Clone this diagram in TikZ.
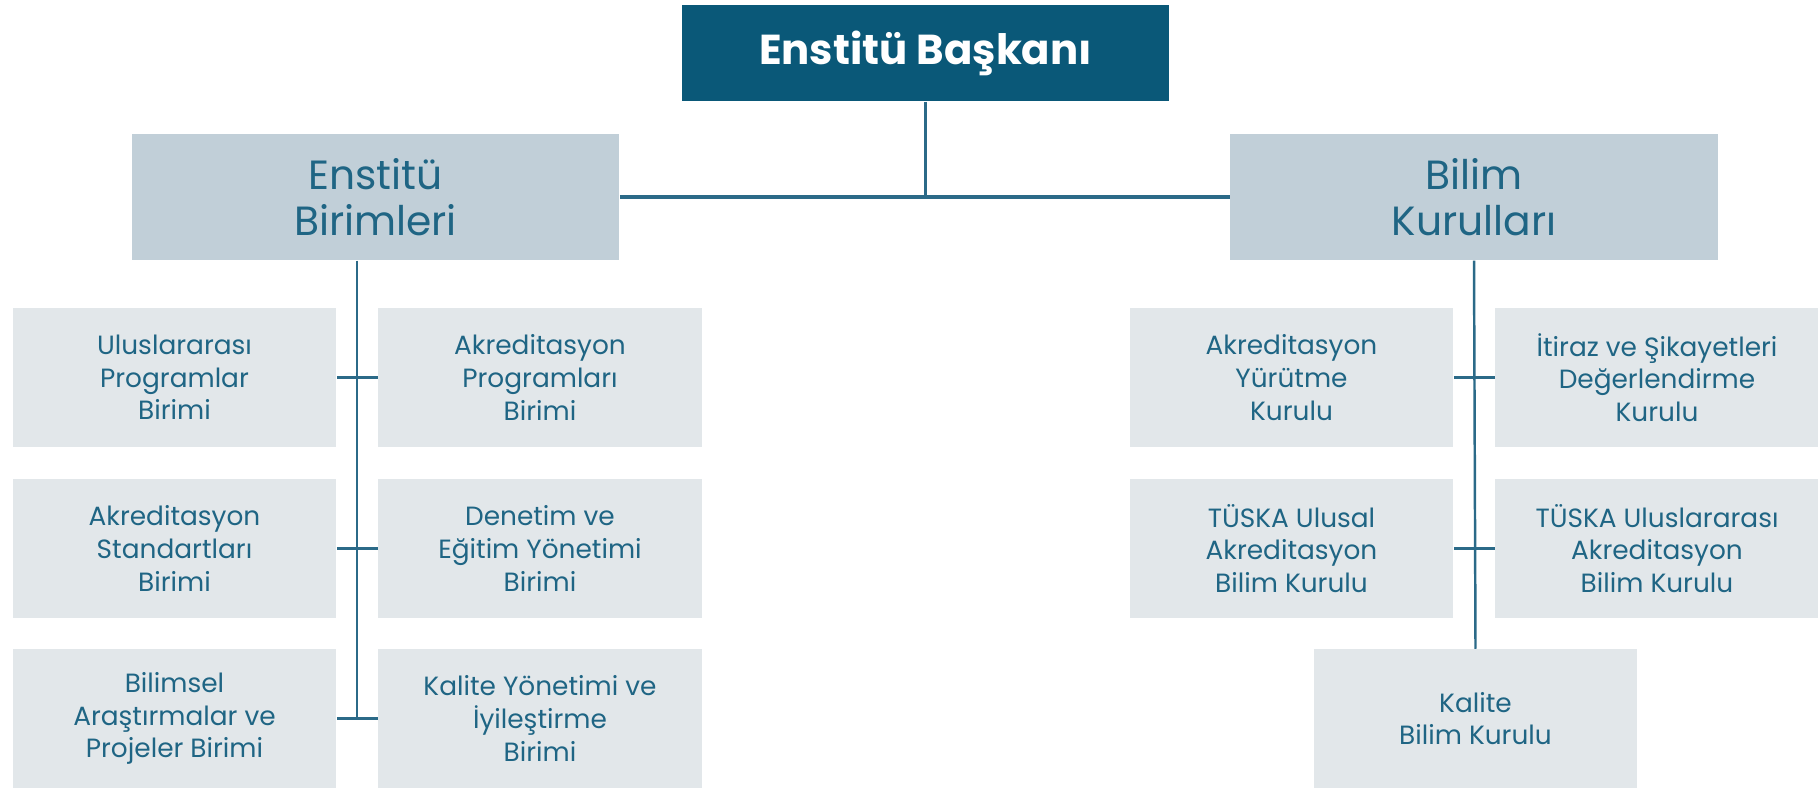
\documentclass[tikz,border=0pt]{standalone}
\usepackage{fontspec}
\setmainfont{Poppins}
\usepackage{xcolor}
\usepackage{tikz}
\usetikzlibrary{calc}

\definecolor{topblue}{HTML}{0A5878}
\definecolor{midgray}{HTML}{C1CFD8}
\definecolor{lowgray}{HTML}{E2E7EA}
\definecolor{inktext}{HTML}{1F6584}
\definecolor{linkline}{HTML}{2B6A88}

\tikzset{
  headbox/.style={fill=topblue, text=white, minimum width=4.87cm, minimum height=0.96cm,
                  font=\fontsize{11.9}{13}\selectfont\bfseries},
  groupbox/.style={fill=midgray, text=inktext, minimum width=4.87cm, minimum height=1.26cm,
                   align=center, font=\fontsize{11.6}{13}\selectfont},
  unitbox/.style={fill=lowgray, text=inktext, minimum width=3.23cm, minimum height=1.38cm,
                  align=center, font=\fontsize{7.5}{9.3}\selectfont},
  link/.style={draw=linkline, line width=0.7pt},
}

\begin{document}
\begin{tikzpicture}[x=0.01cm, y=-0.01cm]
\useasboundingbox (0,0) rectangle (1818,789);

\node[headbox] (baskan) at (925.5,53) {Enstitü Başkanı};
\node[groupbox] (birimler) at (375.5,197) {Enstitü\\Birimleri};
\node[groupbox] (kurullar) at (1474,197) {Bilim\\Kurulları};

% enstitu birimleri
\node[unitbox] (ulus) at (174.5,377.5) {Uluslararası\\Programlar\\Birimi};
\node[unitbox] (akrp) at (540,377.5) {Akreditasyon\\Programları\\Birimi};
\node[unitbox] (akst) at (174.5,548.5) {Akreditasyon\\Standartları\\Birimi};
\node[unitbox] (denetim) at (540,548.5) {Denetim ve\\Eğitim Yönetimi\\Birimi};
\node[unitbox] (bilimsel) at (174.5,718.5) {Bilimsel\\Araştırmalar ve\\Projeler Birimi};
\node[unitbox] (kalyon) at (540,718.5) {Kalite Yönetimi ve\\İyileştirme\\Birimi};

% bilim kurullari
\node[unitbox] (yurutme) at (1291.5,377.5) {Akreditasyon\\Yürütme\\Kurulu};
\node[unitbox] (itiraz) at (1657,377.5) {İtiraz ve Şikayetleri\\Değerlendirme\\Kurulu};
\node[unitbox] (ulusal) at (1291.5,548.5) {TÜSKA Ulusal\\Akreditasyon\\Bilim Kurulu};
\node[unitbox] (uluslar) at (1657,548.5) {TÜSKA Uluslararası\\Akreditasyon\\Bilim Kurulu};
\node[unitbox] (kalite) at (1475.5,718.5) {Kalite\\Bilim Kurulu};

\coordinate (ltrunk) at ($(ulus.east)!0.5!(akrp.west)$);

\draw[link] (baskan.south) -- (baskan.south |- birimler.east);
\draw[link, line width=1.3pt] (birimler.east) -- (kurullar.west);
\draw[link] (birimler.south -| ltrunk) -- (ltrunk |- bilimsel.east);
\draw[link] (ulus.east) -- (akrp.west);
\draw[link] (akst.east) -- (denetim.west);
\draw[link] (bilimsel.east) -- (kalyon.west);
\draw[link] (kurullar.south) -- (kalite.north);
\draw[link] (yurutme.east) -- (itiraz.west);
\draw[link] (ulusal.east) -- (uluslar.west);
\end{tikzpicture}
\end{document}
